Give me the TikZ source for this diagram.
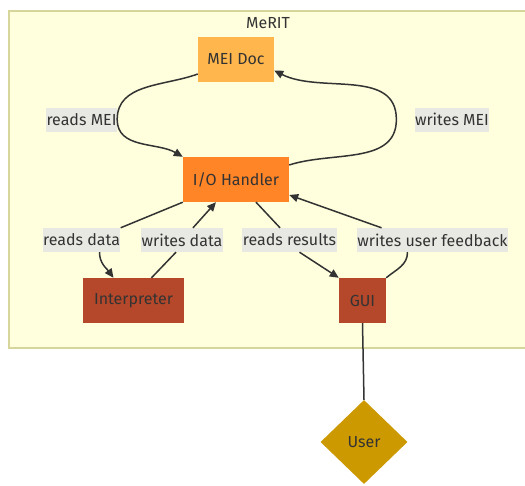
\documentclass[tikz,border=0pt]{standalone}
\usepackage{fontspec}
\setmainfont{Fira Sans}
\usepackage{xcolor}
\usepackage{tikz}
\usetikzlibrary{shapes,arrows,arrows.meta,positioning,calc}

\definecolor{clusterbg}{HTML}{FFFFDE}
\definecolor{clusterline}{HTML}{D6D69A}
\definecolor{docfill}{HTML}{FFB74D}
\definecolor{iofill}{HTML}{FF8527}
\definecolor{compfill}{HTML}{B5482A}
\definecolor{userfill}{HTML}{CC9900}
\definecolor{labelbg}{HTML}{E9E9E4}
\definecolor{ink}{HTML}{333333}

\tikzset{
  box/.style={rectangle, minimum height=45pt, inner sep=0pt, text=ink, font=\fontsize{16}{19}\selectfont},
  lbl/.style={fill=labelbg, text=ink, minimum height=24pt, inner xsep=0.5pt, inner ysep=0pt, font=\fontsize{16}{19}\selectfont},
  flow/.style={draw=ink, line width=1.5pt, -{Triangle[length=9pt,width=8pt]}},
}

\begin{document}
\begin{tikzpicture}[x=1pt,y=1pt]
\useasboundingbox (0,0) rectangle (525,-485);

% MeRIT cluster
\fill[clusterbg] (9,-11) rectangle (530,-348);
\draw[clusterline, line width=1.2pt] (530,-11) -- (9,-11) -- (9,-348) -- (530,-348);
\node[text=ink, font=\fontsize{16}{19}\selectfont] (merit) at (268,-23) {MeRIT};

% components
\node[box, fill=docfill, minimum width=76pt] (doc) at (236,-59.5) {MEI Doc};
\node[box, fill=iofill, minimum width=106pt] (io) at (236,-179.5) {I/O Handler};
\node[box, fill=compfill, minimum width=101pt] (interp) at (133.5,-300.5) {Interpreter};
\node[box, fill=compfill, minimum width=47pt] (gui) at (362.5,-300.5) {GUI};
\node[diamond, fill=userfill, text=ink, minimum width=87pt, minimum height=84pt, inner sep=0pt,
      font=\fontsize{16}{19}\selectfont] (user) at (364,-442) {User};

% edge labels
\node[lbl] (rmei) at (81.5,-119.5) {reads MEI};
\node[lbl] (wmei) at (452,-119.5) {writes MEI};
\node[lbl] (rdata) at (81.5,-240) {reads data};
\node[lbl] (wdata) at (182,-240) {writes data};
\node[lbl] (rres) at (289.5,-240) {reads results};
\node[lbl] (wuf) at (432.5,-240) {writes user feedback};

% doc <-> handler
\draw[flow] ([yshift=-14.5pt]doc.west) to[out=200,in=90] (rmei.east) to[out=-90,in=150] (io.north west);
\draw[flow] ([yshift=14.5pt]io.east) to[out=18,in=-90] ([xshift=-18pt]wmei.west) to[out=90,in=-27] ([yshift=-11pt]doc.east);

% handler <-> interpreter
\draw[flow] (io.south west) -- (rdata.north east)
  ([xshift=18pt]rdata.south) to[out=-90,in=126] ([xshift=-20pt]interp.north);
\draw[flow] ([xshift=18pt]interp.north) -- ([xshift=-6pt]wdata.south)
  ([xshift=11pt]wdata.north) -- ([xshift=-20pt]io.south);

% handler <-> GUI
\draw[flow] ([xshift=20pt]io.south) -- ([xshift=-9.5pt]rres.north)
  ([xshift=10pt]rres.south) -- (gui.north west);
\draw[flow] (gui.north east) to[out=40,in=-90] ([xshift=-25pt]wuf.south)
  ([xshift=-51pt]wuf.north) -- ([yshift=-15.5pt]io.east);

% GUI -- user
\draw[draw=ink, line width=1.5pt] (gui.south) -- (user.north);
\end{tikzpicture}
\end{document}
